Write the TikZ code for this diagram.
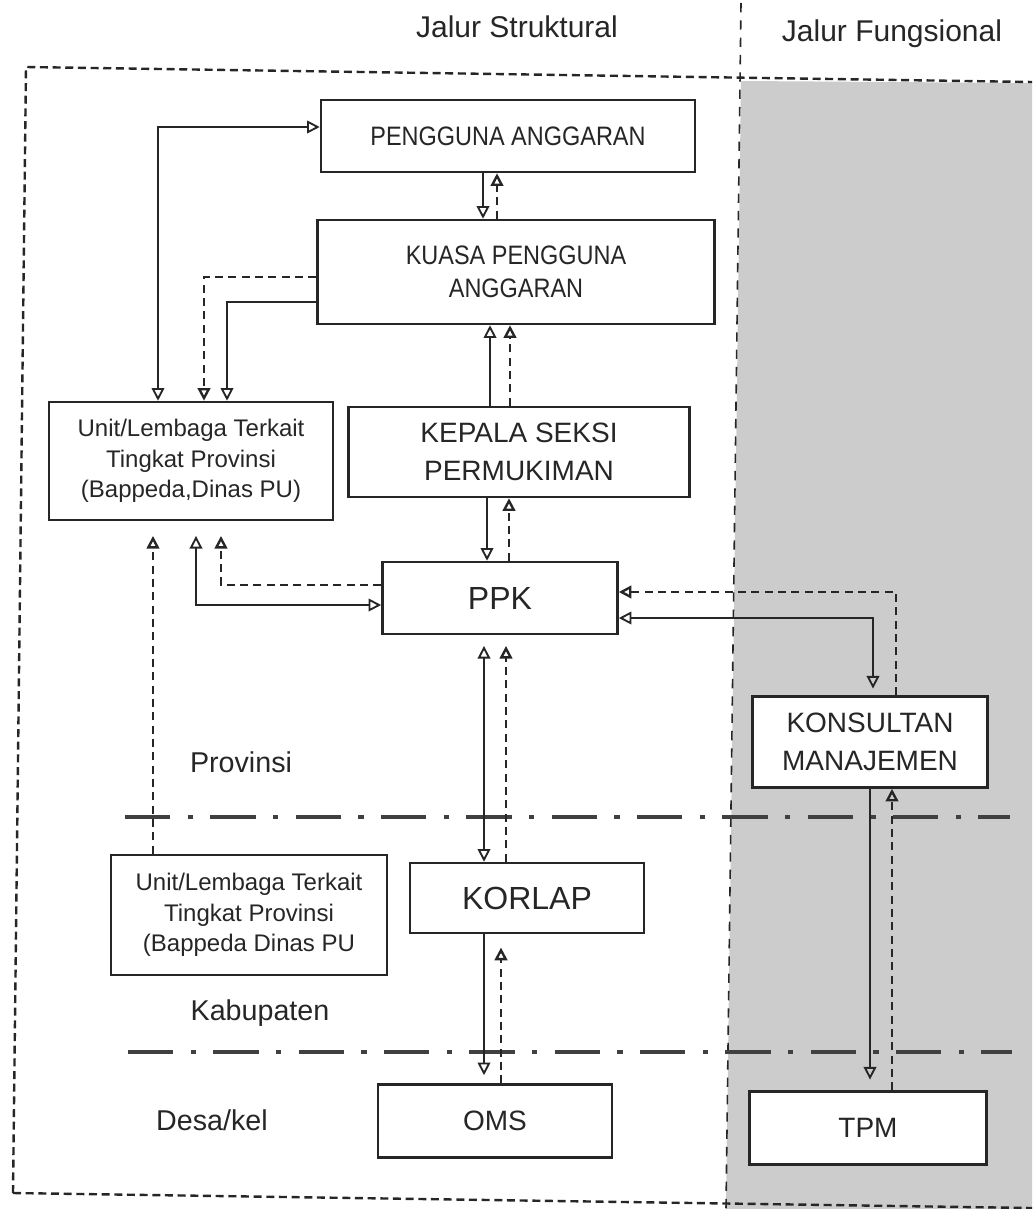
\documentclass[tikz,border=0pt]{standalone}
\usepackage{fontspec}
\setmainfont{Liberation Sans}
\newfontfamily\narrowfont{Liberation Sans}[FakeStretch=0.88]
\usetikzlibrary{arrows.meta}

\begin{document}
\begin{tikzpicture}[x=0.75pt,y=0.75pt,yscale=-1,xscale=1,
  >={Triangle[open,length=9.5pt,width=9.5pt]},
  box/.style={draw=black!85,line width=1.9pt,fill=white,align=center,inner sep=0pt,text=black!85},
  link/.style={draw=black!85,line width=1.4pt},
  dlink/.style={draw=black!85,line width=1.8pt,dash pattern=on 6pt off 4pt},
  frame/.style={draw=black!85,line width=1.8pt,dash pattern=on 6pt off 3.5pt},
  level/.style={draw=black!75,line width=3pt,dash pattern=on 34pt off 13pt on 4pt off 13pt},
  lbl/.style={text=black!85,inner sep=0pt,font=\fontsize{21.5}{26}\selectfont},
  narrow/.style={font=\narrowfont\fontsize{20}{25}\selectfont},
  large/.style={font=\fontsize{21}{28}\selectfont},
  bigger/.style={font=\fontsize{24}{28}\selectfont},
  small/.style={font=\fontsize{18}{23}\selectfont}]
\useasboundingbox (0,0) rectangle (1032,1209);

%Shape: gray column
\fill[black!20] (741,81) -- (1032,83) -- (1032,1209) -- (726,1209) -- cycle;
%Shape: frame
\draw[frame] (13,1193) -- (26,67) -- (1032,82);
\draw[frame] (13,1193) -- (1032,1208);
\draw[draw=black!85,line width=1.2pt,dash pattern=on 7pt off 6pt] (741,3) -- (726,1209);
%Shape: levels
\draw[level] (125,817) -- (1010,817);
\draw[level] (128,1052) -- (1012,1052);

% Text Node
\node[lbl,font=\fontsize{22.5}{26}\selectfont] (struk) at (517,27) {Jalur Struktural};
\node[lbl,font=\fontsize{22.5}{26}\selectfont] (fungs) at (892,34) {Jalur Fungsional};
\node[lbl] (prov) at (241,762) {Provinsi};
\node[lbl] (kab) at (260,1013) {Kabupaten};
\node[lbl] (desa) at (212,1120) {Desa/kel};

% Boxes
\node[box,narrow,minimum width=280.5pt,minimum height=54pt] (pengguna) at (508,136) {PENGGUNA ANGGARAN};
\node[box,narrow,minimum width=297.75pt,minimum height=78pt] (kuasa) at (516,272) {KUASA PENGGUNA\\ANGGARAN};
\node[box,small,minimum width=213pt,minimum height=88.5pt] (unitA) at (191,461) {Unit/Lembaga Terkait\\Tingkat Provinsi\\(Bappeda,Dinas PU)};
\node[box,large,minimum width=255.75pt,minimum height=67.5pt] (kepala) at (519,452) {KEPALA SEKSI\\PERMUKIMAN};
\node[box,bigger,minimum width=176.25pt,minimum height=54pt] (ppk) at (500,598) {PPK};
\node[box,large,minimum width=176.25pt,minimum height=68.25pt] (konsultan) at (870,742) {KONSULTAN\\MANAJEMEN};
\node[box,small,minimum width=207pt,minimum height=90pt] (unitB) at (249,915) {Unit/Lembaga Terkait\\Tingkat Provinsi\\(Bappeda Dinas PU};
\node[box,bigger,minimum width=175.5pt,minimum height=52.5pt] (korlap) at (527,898) {KORLAP};
\node[box,large,minimum width=175.5pt,minimum height=54.75pt] (oms) at (495,1121) {OMS};
\node[box,large,minimum width=177.75pt,minimum height=54.75pt] (tpm) at (868,1128) {TPM};

% bends and lanes
\coordinate (c1) at (158,127);
\coordinate (c2) at (204,277);
\coordinate (c3) at (227,302);
\coordinate (c4) at (196,605);
\coordinate (c5) at (221,585);
\coordinate (c6) at (153,700);
\coordinate (c7) at (896,592);
\coordinate (c8) at (873,618);
\coordinate (v1) at (483,0);
\coordinate (v2) at (497,0);
\coordinate (v3) at (490,0);
\coordinate (v4) at (510,0);
\coordinate (v5) at (487,0);
\coordinate (v6) at (509,0);
\coordinate (v7) at (484,0);
\coordinate (v8) at (506,0);
\coordinate (v9) at (484,0);
\coordinate (v10) at (501,0);
\coordinate (v11) at (870,0);
\coordinate (v12) at (892,0);

% Connectors
\draw[link,<->] (unitA.north -| c1) |- (pengguna.west |- c1);
\draw[link,->] (pengguna.south -| v1) -- (kuasa.north -| v1);
\draw[dlink,->] (kuasa.north -| v2) -- (pengguna.south -| v2);
\draw[dlink,->] (kuasa.west |- c2) -| (unitA.north -| c2);
\draw[link,->] (kuasa.west |- c3) -| (unitA.north -| c3);
\draw[link,->] (kepala.north -| v3) -- (kuasa.south -| v3);
\draw[dlink,->] (kepala.north -| v4) -- (kuasa.south -| v4);
\draw[link,->] (kepala.south -| v5) -- (ppk.north -| v5);
\draw[dlink,->] (ppk.north -| v6) -- (kepala.south -| v6);
\draw[link,<->,shorten <=11pt] (unitA.south -| c4) |- (ppk.west |- c4);
\draw[dlink,->,shorten >=11pt] (ppk.west |- c5) -| (unitA.south -| c5);
\draw[dlink,->,shorten >=11pt] (unitB.north -| c6) -- (unitA.south -| c6);
\draw[link,<->,shorten <=8pt] (ppk.south -| v7) -- (korlap.north -| v7);
\draw[dlink,->,shorten >=8pt] (korlap.north -| v8) -- (ppk.south -| v8);
\draw[link,->,shorten >=6pt] (korlap.south -| v9) -- (oms.north -| v9);
\draw[dlink,->,shorten >=10pt] (oms.north -| v10) -- (korlap.south -| v10);
\draw[dlink,->] (konsultan.north -| c7) |- (ppk.east |- c7);
\draw[link,<->,shorten >=5pt] (ppk.east |- c8) -| (konsultan.north -| c8);
\draw[link,->,shorten >=8pt] (konsultan.south -| v11) -- (tpm.north -| v11);
\draw[dlink,->] (tpm.north -| v12) -- (konsultan.south -| v12);

\end{tikzpicture}
\end{document}
